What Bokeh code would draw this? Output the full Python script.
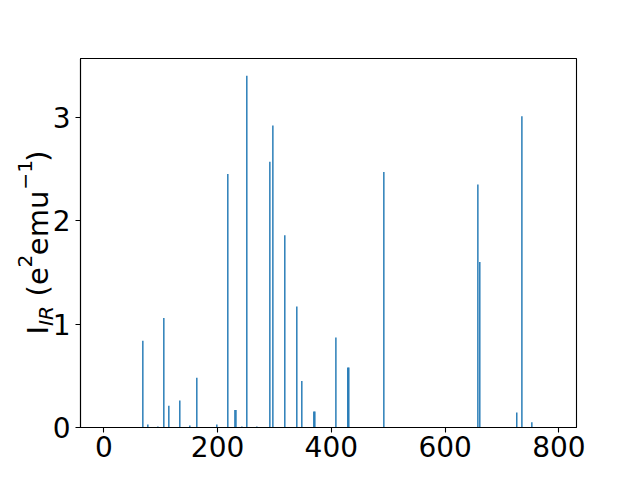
import math
from bokeh.plotting import figure
from bokeh.models import ColumnDataSource, Range1d, FixedTicker, Label
from bokeh.embed import file_html
from bokeh.resources import INLINE

# Frequencies (cm^-1) and IR intensities (e^2 emu^-1)
freqs = [68.6, 77.4, 95.0, 105.5, 114.3, 133.6, 151.2, 163.5, 198.7, 218.0,
         230.5, 232.3, 242.7, 251.4, 269.0, 291.9, 297.2, 318.2, 339.3, 348.1,
         369.2, 371.0, 408.0, 428.9, 430.7, 492.3, 657.6, 661.0, 726.0, 735.0,
         752.5]
intens = [0.84, 0.03, 0.01, 1.06, 0.21, 0.26, 0.02, 0.48, 0.03, 2.45,
          0.17, 0.17, 0.01, 3.40, 0.01, 2.57, 2.92, 1.86, 1.17, 0.45,
          0.155, 0.155, 0.87, 0.58, 0.58, 2.47, 2.35, 1.60, 0.145, 3.01,
          0.05]
x_ticks = [0, 200, 400, 600, 800]
y_ticks = [0, 1, 2, 3]
x_label = "Frequency (cm\u207b\u00b9)"

BLUE = "#1f77b4"
FONT = "DejaVu Sans"

X0, X1 = -41, 831
Y0, Y1 = 0, 3.568
LEFT, RIGHT, TOP, BOTTOM = 80, 64, 58, 53
W, H = 640, 480
px_x = (W - LEFT - RIGHT) / (X1 - X0)
px_y = (H - TOP - BOTTOM) / (Y1 - Y0)

def dx(screen_x):
    return X0 + (screen_x - LEFT) / px_x

def dy(screen_y):
    return Y0 + (H - BOTTOM - screen_y) / px_y

source = ColumnDataSource(data=dict(freq=freqs, inten=intens))

p = figure(width=W, height=H, output_backend="svg", toolbar_location=None,
           x_range=Range1d(X0, X1), y_range=Range1d(Y0, Y1),
           min_border_left=LEFT, min_border_right=RIGHT, min_border_top=TOP,
           min_border_bottom=BOTTOM)

p.vbar(x="freq", top="inten", width=2.5, source=source,
       fill_color=BLUE, line_color=None)

p.grid.visible = False
p.outline_line_color = "black"
p.outline_line_width = 1.1
p.outline_line_alpha = 1.0

for ax in (p.xaxis[0], p.yaxis[0]):
    ax.axis_line_color = "black"
    ax.axis_line_width = 1.1
    ax.major_tick_line_color = "black"
    ax.major_tick_line_width = 1.1
    ax.major_tick_out = 5
    ax.major_tick_in = 0
    ax.minor_tick_line_color = None
    ax.major_label_text_font = FONT
    ax.major_label_text_font_size = "28px"
    ax.major_label_text_color = "black"

p.xaxis[0].ticker = FixedTicker(ticks=x_ticks)
p.yaxis[0].ticker = FixedTicker(ticks=y_ticks)
p.xaxis[0].major_label_standoff = 3
p.yaxis[0].major_label_standoff = 5

# Y axis label  I_{IR} (e^2 emu^{-1}) : main text with gaps + sub/superscripts
F = 29.0
SF = 0.7 * F
adv = {"I": 0.295, "R": 0.695, "\u00a0": 0.318, "(": 0.390, ")": 0.390,
       "e": 0.615, "m": 0.974, "u": 0.634, "2": 0.636, "1": 0.636,
       "\u2212": 0.838}

def width(s, size):
    return sum(adv[c] for c in s) * size

EN, EM, THIN, HAIR, NBSP = "\u2002", "\u2003", "\u2009", "\u200a", "\u00a0"
main_text = ("I" + EN + THIN + NBSP + "(e" + NBSP + HAIR + "emu" + EM + ")")
sup_text = "2" + EM + EM + EM + THIN + "\u22121"
sub_text = "IR"

base_sx = 37
start_sy = 334
sub_sy = start_sy - width("I", F)
sup_sy = start_sy - width("I", F) - width("IR", SF) - width("\u00a0(e", F)

def vlabel(txt, size, style, sx, sy, side):
    p.add_layout(Label(x=dx(sx), y=dy(sy), text=txt, angle=math.pi / 2,
                       text_align="left", text_baseline="alphabetic",
                       text_font=FONT, text_font_size=f"{size:.1f}px",
                       text_font_style=style, text_color="black"), side)

vlabel(main_text, F, "normal", base_sx, start_sy, "left")
vlabel(sub_text, SF, "italic", base_sx + 8, sub_sy, "right")
vlabel(sup_text, SF, "normal", base_sx - 13, sup_sy, "right")

# X axis label (cut off at the bottom edge in the original)
p.add_layout(Label(x=dx(328), y=dy(495), text=x_label,
                   text_align="center", text_baseline="alphabetic",
                   text_font=FONT, text_font_size="28px",
                   text_color="black"), "above")

open("out.html", "w").write(file_html(p, INLINE))
